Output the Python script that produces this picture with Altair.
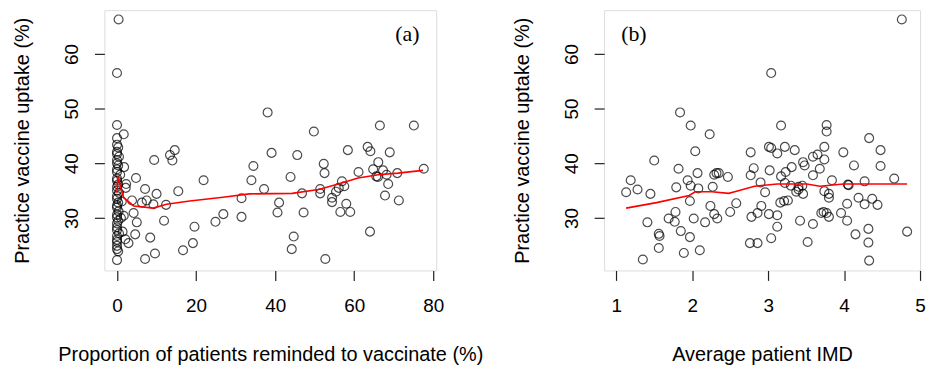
import altair as alt
import pandas as pd

# ---------------- Panel (a): reminders vs uptake ----------------
a_reminded = [0.4, 0.0, 0.0, 1.7, 0.0,
              0.0, 0.3, 0.0, 0.0, 0.5, 0.0, 0.0, 0.3, 0.0, 0.0, 0.8, 0.0, 0.0, 0.3, 0.0, 0.0,
              0.5, 0.0, 0.0, 0.3, 1.2, 0.0, 0.0, 0.4, 0.0, 1.0, 0.0, 0.3, 0.0, 1.4, 0.0, 0.0,
              0.5, 0.0, 0.0, 0.0,
              1.8, 4.8, 2.3, 2.2, 7.1, 9.4, 13.4, 14.6, 14.0, 3.8, 6.3, 7.5, 10.0, 9.2, 15.5,
              12.4, 4.2, 1.7, 5.0, 11.9, 4.6, 2.1, 2.9, 8.4, 9.6, 7.1, 16.7, 19.2, 19.6, 21.9,
              24.9, 26.9, 31.5, 31.5, 34.0, 34.5, 37.2, 38.1,
              39.1, 41.0, 40.6, 43.9, 45.6, 44.7, 44.2, 46.8, 47.2, 49.8, 52.3, 52.5, 51.4,
              51.4, 52.7, 54.4, 54.4, 55.4, 56.1, 56.9, 57.5, 56.5, 58.0, 59.0, 58.4, 61.1,
              63.4, 64.1, 64.0, 64.8, 66.1, 66.5, 65.6, 66.0, 67.3, 67.8, 68.6, 68.2, 69.0,
              70.9, 71.3, 75.1, 77.6,
              0.0, 0.0, 0.3, 0.0]
a_uptake = [66.3, 56.5, 47.0, 45.3, 44.6,
            43.4, 42.9, 42.1, 41.7, 41.2, 40.6, 40.0, 39.6, 38.9, 38.4, 37.9, 37.2, 36.8, 36.1,
            35.7, 35.0, 34.6, 34.0, 33.5, 32.8, 33.0, 32.3, 31.9, 31.2, 30.6, 30.0, 30.1, 29.5,
            29.0, 27.5, 28.3, 27.8, 27.2, 26.7, 26.0, 25.6,
            39.3, 37.3, 36.2, 35.5, 35.3, 40.6, 41.5, 42.4, 40.5, 33.2, 32.8, 33.2, 34.4, 32.5,
            34.9, 32.4, 30.9, 30.4, 29.2, 29.5, 27.0, 26.1, 25.4, 26.4, 23.5, 22.5, 24.1, 25.4,
            28.4, 36.9, 29.3, 30.7, 33.6, 30.2, 36.9, 39.5, 35.3, 49.3,
            41.9, 32.8, 31.0, 37.5, 41.5, 26.6, 24.3, 34.5, 31.0, 45.8, 39.9, 38.2, 35.3,
            34.5, 22.5, 33.7, 32.9, 34.8, 35.5, 36.7, 35.8, 31.1, 32.6, 31.1, 42.4, 38.4,
            43.0, 42.2, 27.5, 38.9, 40.2, 46.9, 37.6, 37.5, 38.7, 34.1, 36.2, 37.9, 42.0,
            38.2, 33.2, 46.9, 39.0,
            24.9, 24.3, 23.9, 22.3]

a_fit_x = [0.0, 0.2, 1.0, 1.7, 4.2, 9.2, 12.5, 18.4, 26.8, 33.5, 44.3, 51.0, 56.0, 61.0, 66.1, 71.1, 77.4]
a_fit_y = [34.6, 37.6, 35.4, 33.7, 32.2, 31.8, 32.5, 33.1, 33.8, 34.4, 34.5, 35.2, 36.2, 37.3, 37.9, 38.2, 38.7]

# ---------------- Panel (b): IMD vs uptake ----------------
b_imd = [1.84, 1.98, 2.23, 2.04, 1.50, 1.19, 1.13, 1.28, 1.45, 1.41, 1.56, 1.57, 1.56, 1.35,
         1.82, 1.79, 1.94, 1.98, 2.07, 2.08, 1.97, 1.78, 1.69, 1.77, 1.85, 1.97, 1.89, 2.10,
         2.02, 2.17, 2.24, 2.27, 2.29, 2.32, 2.35, 2.29, 2.33, 2.47, 2.50, 2.58, 2.77, 2.77,
         2.78, 2.76, 2.81,
         4.76, 3.04, 3.17, 3.77, 3.77, 4.33, 4.48, 4.48, 4.66, 4.83, 4.33, 4.32, 4.32, 4.15,
         4.04, 3.96, 4.04, 4.19, 4.27, 4.37, 4.44, 4.27, 4.05, 4.06, 4.13, 3.99, 3.84, 3.80,
         3.80, 3.74, 3.73, 3.77, 3.80, 3.70, 3.74, 3.74, 3.68, 3.65, 3.59, 3.59, 3.46, 3.48,
         3.35, 3.31, 3.23, 3.17, 3.22, 3.30, 3.40, 3.45, 3.37, 3.40, 3.46, 3.26, 3.21, 3.16,
         3.12, 3.12, 3.04, 3.01, 2.91, 2.86, 2.86, 2.96, 2.90, 3.01, 3.04, 3.12, 3.22, 3.02,
         3.42, 3.59, 3.52]
b_uptake = [49.3, 46.9, 45.3, 42.2, 40.5, 36.9, 34.7, 35.2, 34.4, 29.2, 27.1, 26.7, 24.5, 22.4,
            39.0, 35.6, 36.9, 35.9, 38.2, 35.4, 33.1, 31.1, 29.9, 29.3, 27.6, 26.5, 23.6, 24.1,
            29.9, 29.2, 32.2, 35.7, 37.9, 38.2, 38.2, 30.7, 29.9, 37.5, 31.1, 32.7, 42.0, 37.8,
            30.2, 25.4, 39.1,
            66.3, 56.5, 46.9, 47.0, 45.8, 44.6, 42.4, 39.5, 37.2, 27.5, 22.2, 25.5, 28.0, 27.0,
            29.5, 30.9, 32.6, 33.7, 32.5, 33.5, 32.4, 36.7, 36.1, 36.0, 39.6, 42.0, 36.9, 34.4,
            33.7, 34.9, 31.1, 30.9, 30.2, 30.9, 40.7, 43.0, 39.0, 41.6, 41.2, 37.8, 40.2, 39.6,
            42.4, 39.3, 38.4, 37.6, 36.4, 35.9, 35.7, 35.9, 34.8, 35.2, 34.4, 33.2, 33.1, 32.8,
            30.5, 28.4, 26.3, 30.7, 32.2, 30.9, 25.4, 34.7, 36.5, 43.0, 42.8, 41.8, 43.0, 38.7,
            29.5, 28.9, 25.6]

b_fit_x = [1.13, 1.53, 1.96, 2.04, 2.26, 2.48, 2.56, 2.82, 3.12, 3.51, 3.68, 3.99, 4.83]
b_fit_y = [31.8, 32.8, 34.1, 34.8, 34.8, 34.5, 34.8, 35.8, 36.2, 36.2, 35.8, 36.2, 36.2]

y_ticks = [30, 40, 50, 60]
a_ticks = [0, 20, 40, 60, 80]
b_ticks = [1, 2, 3, 4, 5]

Y_TITLE = "Practice vaccine uptake (%)"
A_TITLE = "Proportion of patients reminded to vaccinate (%)"
B_TITLE = "Average patient IMD"

H = 262
SANS = "Liberation Sans"
INK = "#222222"


def make_panel(xs, ys, fx, fy, xdomain, xticks, xtitle, tag, tag_x, width):
    pts = pd.DataFrame({"x": xs, "y": ys})
    fit = pd.DataFrame({"x": fx, "y": fy, "o": list(range(len(fx)))})
    xscale = alt.Scale(domain=xdomain, nice=False, zero=False)
    yscale = alt.Scale(domain=[20.4, 68.0], nice=False, zero=False)
    xaxis = alt.Axis(values=xticks, domain=False, grid=False, tickSize=10, tickWidth=1.2,
                     tickColor=INK, labelFont=SANS, labelFontSize=19, labelColor="black",
                     labelPadding=25, labelBaseline="middle", labelFlush=False,
                     labelOverlap=False, labelBound=False, format="d",
                     title=xtitle, titleFont=SANS, titleFontSize=20, titleFontWeight="normal",
                     titleColor="black", titleX=width / 2, titleY=85,
                     titleBaseline="middle", titleAlign="center")
    yaxis = alt.Axis(values=y_ticks, domain=False, grid=False, tickSize=10, tickWidth=1.2,
                     tickColor=INK, labelFont=SANS, labelFontSize=19, labelColor="black",
                     labelAngle=270, labelAlign="center", labelBaseline="alphabetic",
                     labelPadding=17, labelFlush=False, labelOverlap=False, labelBound=False,
                     title=Y_TITLE, titleFont=SANS, titleFontSize=20, titleFontWeight="normal",
                     titleColor="black", titleAngle=270, titleX=-82, titleY=H / 2,
                     titleBaseline="middle", titleAlign="center")
    points = alt.Chart(pts).mark_point(shape="circle", filled=False, size=80,
                                        color="black", strokeWidth=1.2).encode(
        x=alt.X("x:Q", scale=xscale, axis=xaxis),
        y=alt.Y("y:Q", scale=yscale, axis=yaxis),
    )
    line = alt.Chart(fit).mark_line(color="#ff0000", strokeWidth=1.6).encode(
        x=alt.X("x:Q", scale=xscale),
        y=alt.Y("y:Q", scale=yscale),
        order="o:Q",
    )
    label = alt.Chart(pd.DataFrame({"t": [tag]})).mark_text(
        font="Liberation Serif", fontSize=22, color="black", align="center", baseline="middle"
    ).encode(text="t:N", x=alt.value(tag_x), y=alt.value(24))
    return alt.layer(points, line, label).properties(width=width, height=H)


panel_a = make_panel(a_reminded, a_uptake, a_fit_x, a_fit_y, [-3.2, 80.75], a_ticks,
                     A_TITLE, "(a)", 305, 334)
panel_b = make_panel(b_imd, b_uptake, b_fit_x, b_fit_y, [0.84, 5.0], b_ticks,
                     B_TITLE, "(b)", 30, 318)

chart = alt.hconcat(panel_a, panel_b, spacing=169, bounds="flush").properties(
    padding={"left": 4, "top": 0, "right": 0, "bottom": 0}
).configure_view(stroke=INK, strokeWidth=1.5).configure(background="white")

chart.save("out.html", embed_options={"renderer": "svg", "actions": False})
